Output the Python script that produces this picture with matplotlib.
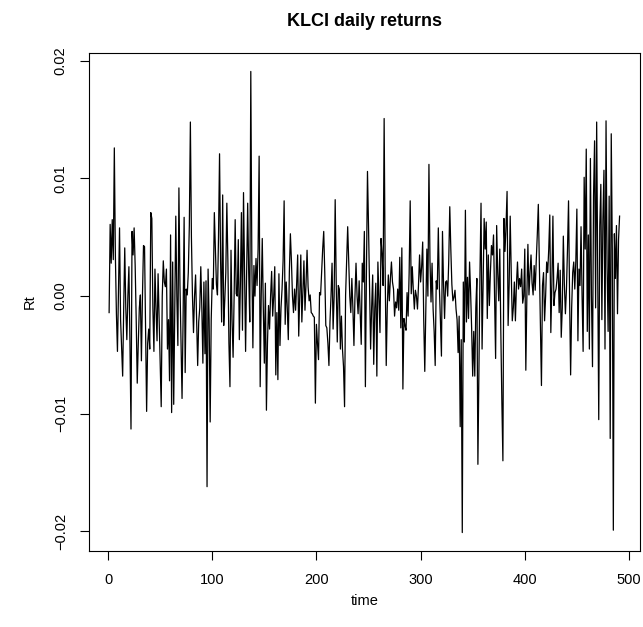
import matplotlib
matplotlib.use("Agg")
import matplotlib.pyplot as plt
import numpy as np

plt.rcParams['font.family'] = ['Liberation Sans', 'DejaVu Sans']

title = "KLCI daily returns"
xlabel = "time"
ylabel = "Rt"
xticks = [0, 100, 200, 300, 400, 500]
yticks = [-0.02, -0.01, 0.00, 0.01, 0.02]
ytick_labels = ["\u22120.02", "\u22120.01", "0.00", "0.01", "0.02"]

returns_1 = [
    -0.0014, 0.0061, 0.0028, 0.0065, 0.0031, 0.0126, 0.0035, -0.0015, -0.0047, 0.0005,
    0.0058, -0.0020, -0.0045, -0.0068, -0.0010, 0.0041, -0.0010, -0.0037, 0.0000, 0.0025,
    -0.0040, -0.0113, 0.0055, 0.0035, 0.0058, 0.0026, -0.0020, -0.0074, -0.0040, -0.0010,
    0.0001, -0.0055, 0.0000, 0.0043, 0.0042, -0.0030, -0.0098, -0.0040, -0.0028, -0.0045,
    0.0071, 0.0066, -0.0010, -0.0047, 0.0023, -0.0010, -0.0038, 0.0019, -0.0020, -0.0060,
    -0.0094, 0.0000, 0.0030, 0.0012, 0.0008, 0.0023, -0.0045, -0.0020, -0.0072, 0.0052,
    -0.0099, 0.0029, -0.0092, -0.0010, 0.0068, 0.0000, -0.0042, 0.0092, 0.0010, -0.0040,
    -0.0087, -0.0020, 0.0067, -0.0065, 0.0006, 0.0001, 0.0020, 0.0060, 0.0148, 0.0050,
    0.0000, -0.0031, 0.0000, 0.0018, -0.0020, -0.0059, -0.0022, -0.0010, 0.0025, -0.0010,
    -0.0057, 0.0012, -0.0049, 0.0013, -0.0162, 0.0023, -0.0020, -0.0107, -0.0020, 0.0015,
]
returns_2 = [
    0.0006, 0.0071, 0.0040, 0.0010, 0.0001, 0.0050, 0.0121, 0.0030, -0.0022, 0.0086,
    -0.0025, -0.0004, 0.0020, 0.0079, 0.0030, -0.0040, -0.0077, 0.0039, -0.0020, -0.0052,
    0.0000, 0.0065, 0.0002, 0.0000, 0.0048, -0.0037, 0.0010, 0.0071, -0.0029, 0.0088,
    0.0020, -0.0047, 0.0020, 0.0079, 0.0020, -0.0022, 0.0191, 0.0030, -0.0044, 0.0026,
    0.0000, 0.0032, 0.0009, 0.0040, 0.0119, -0.0077, 0.0000, 0.0049, -0.0010, -0.0057,
    0.0011, -0.0097, -0.0040, -0.0008, -0.0028, 0.0000, 0.0021, -0.0017, 0.0000, 0.0025,
    -0.0067, -0.0014, -0.0071, 0.0019, -0.0042, -0.0010, 0.0006, 0.0030, 0.0081, -0.0024,
    0.0012, -0.0010, -0.0037, 0.0020, 0.0053, 0.0030, 0.0000, -0.0014, 0.0006, -0.0012,
    0.0010, 0.0035, -0.0034, 0.0000, 0.0035, -0.0022, 0.0005, 0.0030, -0.0012, 0.0010,
    0.0039, 0.0008, -0.0004, 0.0001, -0.0014, -0.0015, -0.0017, -0.0018, -0.0091, -0.0024,
]
returns_3 = [
    -0.0040, -0.0054, 0.0003, 0.0001, 0.0020, 0.0040, 0.0055, 0.0020, -0.0025, -0.0027,
    -0.0040, -0.0059, -0.0022, 0.0000, 0.0028, -0.0028, 0.0000, 0.0082, 0.0010, -0.0039,
    0.0009, 0.0006, -0.0045, -0.0017, -0.0045, -0.0060, -0.0094, 0.0001, 0.0030, 0.0059,
    0.0030, 0.0000, -0.0014, 0.0015, -0.0010, -0.0042, 0.0000, 0.0028, 0.0000, -0.0015,
    0.0013, -0.0015, -0.0041, 0.0028, 0.0012, 0.0055, -0.0077, 0.0020, 0.0106, 0.0060,
    0.0005, -0.0045, -0.0010, 0.0018, -0.0058, -0.0010, 0.0011, -0.0068, 0.0029, 0.0000,
    -0.0031, 0.0049, 0.0036, 0.0009, 0.0151, 0.0020, -0.0059, -0.0010, 0.0018, -0.0004,
    0.0015, 0.0029, 0.0012, 0.0006, -0.0017, -0.0005, -0.0010, 0.0006, -0.0012, 0.0033,
    -0.0027, 0.0041, -0.0079, -0.0019, -0.0025, -0.0029, 0.0003, -0.0017, 0.0020, 0.0081,
    0.0002, 0.0025, 0.0005, -0.0011, 0.0005, 0.0000, -0.0011, 0.0010, 0.0035, 0.0012,
]
returns_4 = [
    0.0025, 0.0046, -0.0020, -0.0064, -0.0010, 0.0040, 0.0000, 0.0112, 0.0030, -0.0005,
    0.0028, -0.0011, -0.0030, -0.0059, 0.0013, 0.0006, 0.0058, 0.0008, -0.0020, -0.0051,
    0.0055, 0.0010, -0.0019, 0.0012, 0.0013, 0.0000, 0.0030, 0.0076, 0.0040, 0.0010,
    -0.0004, -0.0001, 0.0005, -0.0011, -0.0020, -0.0048, -0.0017, -0.0111, -0.0037, -0.0201,
    0.0012, -0.0039, 0.0073, -0.0022, 0.0016, -0.0019, 0.0029, 0.0003, -0.0028, -0.0068,
    -0.0030, -0.0068, -0.0010, 0.0015, -0.0143, -0.0060, 0.0020, 0.0079, -0.0045, 0.0010,
    0.0066, 0.0040, 0.0063, -0.0019, 0.0035, -0.0008, 0.0020, 0.0043, 0.0035, 0.0052,
    0.0000, -0.0053, 0.0060, 0.0020, -0.0004, 0.0040, -0.0030, -0.0090, -0.0140, 0.0066,
    0.0038, 0.0060, 0.0089, -0.0025, 0.0010, 0.0068, 0.0020, -0.0021, -0.0010, 0.0012,
    -0.0021, 0.0010, 0.0029, 0.0006, 0.0015, 0.0008, 0.0023, -0.0006, 0.0000, 0.0040,
]
returns_5 = [
    -0.0063, 0.0000, 0.0044, 0.0001, 0.0020, 0.0035, 0.0011, 0.0001, 0.0026, 0.0005,
    0.0030, 0.0052, 0.0078, 0.0028, -0.0020, -0.0076, 0.0009, 0.0020, -0.0021, 0.0000,
    0.0029, 0.0020, 0.0040, 0.0069, -0.0031, 0.0010, 0.0068, -0.0008, 0.0003, 0.0006,
    0.0015, 0.0028, -0.0014, 0.0022, -0.0035, -0.0010, 0.0051, 0.0010, -0.0015, 0.0006,
    0.0040, 0.0081, 0.0000, -0.0067, -0.0010, 0.0020, 0.0029, 0.0006, 0.0030, 0.0074,
    -0.0038, 0.0023, 0.0009, 0.0059, 0.0000, -0.0047, 0.0101, 0.0040, 0.0125, -0.0030,
    0.0052, -0.0045, 0.0117, 0.0000, -0.0060, 0.0085, 0.0132, -0.0010, 0.0148, 0.0020,
    -0.0105, 0.0060, 0.0095, -0.0020, 0.0065, 0.0107, -0.0045, 0.0149, 0.0025, -0.0030,
    0.0085, -0.0121, 0.0138, 0.0040, -0.0199, 0.0053, 0.0015, 0.0060, -0.0015, 0.0048,
    0.0068,
]

returns = np.array(returns_1 + returns_2 + returns_3 + returns_4 + returns_5)
time = np.arange(1, len(returns) + 1)

W, H = 643, 627
fig = plt.figure(figsize=(W / 100, H / 100), dpi=100)
ax = fig.add_axes([88.7 / W, 1 - 551 / H, (640 - 88.7) / W, (551 - 53) / H])

ax.plot(time, returns, color="black", linewidth=0.9)

n = len(returns)
xr = n - 1
ax.set_xlim(1 - 0.04 * xr, n + 0.04 * xr)
ymin, ymax = returns.min(), returns.max()
yr = ymax - ymin
ax.set_ylim(ymin - 0.04 * yr, ymax + 0.04 * yr)

ax.set_xticks(xticks)
ax.set_xticklabels([str(v) for v in xticks], fontsize=10.5)
ax.set_yticks(yticks)
ax.set_yticklabels(ytick_labels, fontsize=10.5, rotation=90, va="center")
ax.tick_params(axis="both", direction="out", length=6.5, width=0.8, color="black")
ax.tick_params(axis="x", pad=9.5)
ax.tick_params(axis="y", pad=8.5)
for s in ax.spines.values():
    s.set_linewidth(0.8)
    s.set_color("black")

fig.text((88.7 + 640) / 2 / W, 1 - 21 / H, title, ha="center", va="center",
         fontsize=13, fontweight="bold")
fig.text((88.7 + 640) / 2 / W, 1 - 601 / H, xlabel, ha="center", va="center", fontsize=10.5)
fig.text(30 / W, 1 - 302 / H, ylabel, ha="center", va="center", fontsize=10.5, rotation=90)

fig.savefig("out.png", dpi=100)
